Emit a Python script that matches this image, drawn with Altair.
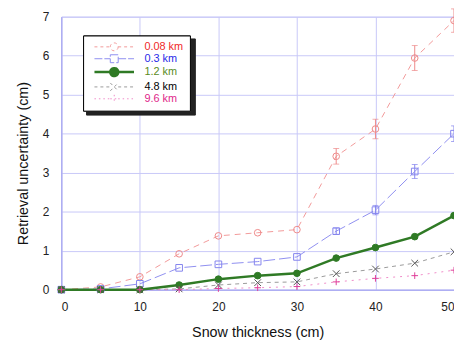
import altair as alt
import pandas as pd

# ---- data ----
thickness = [0, 5, 10, 15, 20, 25, 30, 35, 40, 45, 50]
series = ["0.08 km", "0.3 km", "1.2 km", "4.8 km", "9.6 km"]
u008 = [0, 0.07, 0.33, 0.92, 1.38, 1.46, 1.54, 3.42, 4.12, 5.94, 6.9]
u03 = [0, 0.02, 0.15, 0.56, 0.65, 0.72, 0.84, 1.5, 2.04, 3.03, 4.0]
u12 = [0, 0, 0, 0.12, 0.27, 0.36, 0.42, 0.81, 1.08, 1.36, 1.9]
u48 = [0, 0, 0, 0.02, 0.12, 0.18, 0.2, 0.41, 0.53, 0.68, 0.97]
u96 = [0, 0, 0, 0, 0.03, 0.05, 0.08, 0.2, 0.29, 0.36, 0.5]
err008 = [0, 0, 0, 0, 0, 0, 0, 0.2, 0.25, 0.32, 0.3]
err03 = [0, 0, 0, 0, 0, 0, 0, 0.08, 0.12, 0.18, 0.2]
y_ticks = [0, 1, 2, 3, 4, 5, 6, 7]
x_ticks = [0, 10, 20, 30, 40, 50]

# ---- styles ----
line_colors = ["#f29a9a", "#8f8ff0", "#2f7a25", "#9a9a9a", "#f08cc8"]
marker_colors = ["#ee8a8a", "#8585ee", "#2f7a25", "#555555", "#e0409a"]
marker_fills = ["rgba(0,0,0,0)", "rgba(0,0,0,0)", "#2f7a25", "rgba(0,0,0,0)", "rgba(0,0,0,0)"]
dashes = [[6, 5], [12, 4], [1, 0], [4, 4], [2, 5]]
shapes = ["circle", "square", "circle", "M-1,-1L1,1M-1,1L1,-1", "M-1,0H1M0,-1V1"]
label_colors = ["#f02828", "#2a2ae8", "#5a8c1e", "#000000", "#e0288a"]

rows = []
for name, vals in zip(series, [u008, u03, u12, u48, u96]):
    for x, v in zip(thickness, vals):
        rows.append({"series": name, "x": x, "y": v})
df = pd.DataFrame(rows)

erows = []
for name, vals, errs in [("0.08 km", u008, err008), ("0.3 km", u03, err03)]:
    for x, v, e in zip(thickness, vals, errs):
        if e > 0:
            erows.append({"series": name, "x": x, "y": v - e, "hi": v + e})
edf = pd.DataFrame(erows)

tdf = pd.DataFrame({"y": y_ticks, "label": [str(t) for t in y_ticks]})

# legend expressions (per entry)
def pick(values, quote=True):
    expr = ""
    for s, v in zip(series[:-1], values[:-1]):
        vv = f"'{v}'" if quote else str(v)
        expr += f"datum.label === '{s}' ? {vv} : "
    last = values[-1]
    expr += f"'{last}'" if quote else str(last)
    return expr

line_part = "M0,0H8M12,0H20"
circ = "M12,0A2,2 0 1,1 8,0A2,2 0 1,1 12,0"
sym_paths = [
    line_part + circ,
    line_part + "M8,-2H12V2H8Z",
    "M0,0H20" + circ,
    line_part + "M8,-2L12,2M8,2L12,-2",
    line_part + "M8,0H12M10,-2V2",
]
dash_exprs = ["[3,3]", "[8,2]", "[1,0]", "[3,3]", "[1.5,3]"]

common_legend = dict(
    orient="none", title=None, padding=6,
    labelFont="Liberation Sans", labelFontSize=11,
    symbolType=alt.ExprRef(expr=pick(sym_paths)),
    symbolSize=16, rowPadding=-2.5,
)

legend = alt.Legend(
    legendX=22, legendY=19, zindex=2, labelOffset=45,
    strokeColor="black", fillColor="white",
    labelColor=alt.ExprRef(expr=pick(label_colors)),
    symbolDash=alt.ExprRef(expr=pick(dash_exprs, quote=False)),
    symbolStrokeWidth=alt.ExprRef(expr="datum.label === '1.2 km' ? 2.5 : 1"),
    symbolFillColor=alt.ExprRef(expr="datum.label === '1.2 km' ? '#2f7a25' : 'transparent'"),
    **common_legend,
)
# drop shadow of the legend box (same size, labels blanked)
shadow_legend = alt.Legend(
    legendX=25, legendY=22, zindex=1, labelOffset=87, labelExpr="' '",
    strokeColor="#222222", fillColor="#222222",
    labelColor="#222222", symbolOpacity=0,
    **common_legend,
)

xaxis = alt.Axis(values=x_ticks, title="Snow thickness (cm)",
                 labelPadding=12, titlePadding=13, labelOverlap=False)
yaxis = alt.Axis(values=y_ticks, title="Retrieval uncertainty (cm)", labels=False,
                 titlePadding=31, titleY=148)
xscale = alt.Scale(domain=[0, 50], nice=False)
yscale = alt.Scale(domain=[0, 7], nice=False, zero=True)
xenc = alt.X("x:Q", scale=xscale, axis=xaxis)
yenc = alt.Y("y:Q", scale=yscale, axis=yaxis)

color = alt.Color("series:N", scale=alt.Scale(domain=series, range=line_colors),
                  sort=series, legend=legend)
dash = alt.StrokeDash("series:N", scale=alt.Scale(domain=series, range=dashes), legend=None)
shadow = alt.Opacity("series:N", scale=alt.Scale(domain=series[::-1], range=[1, 1, 1, 1, 1]),
                     legend=shadow_legend)

base = alt.Chart(df)
lines = base.mark_line(strokeWidth=1).encode(
    x=xenc, y=yenc, color=color, strokeDash=dash, opacity=shadow
).transform_filter("datum.series !== '1.2 km'")
green = base.mark_line(strokeWidth=2.5).encode(
    x=xenc, y=yenc, color=color
).transform_filter("datum.series === '1.2 km'")

points = base.mark_point(size=45, strokeWidth=1, opacity=1).encode(
    x=xenc, y=yenc,
    stroke=alt.Stroke("series:N", scale=alt.Scale(domain=series, range=marker_colors), legend=None),
    fill=alt.Fill("series:N", scale=alt.Scale(domain=series, range=marker_fills), legend=None),
    shape=alt.Shape("series:N", scale=alt.Scale(domain=series, range=shapes), legend=None),
)

ecolor = alt.Color("series:N", scale=alt.Scale(domain=series, range=marker_colors), legend=None)
ebase = alt.Chart(edf)
erule = ebase.mark_rule(strokeWidth=1).encode(x=xenc, y=yenc, y2="hi:Q", color=ecolor)
ecap_lo = ebase.mark_tick(orient="horizontal", size=6, thickness=1).encode(x=xenc, y=yenc, color=ecolor)
ecap_hi = ebase.mark_tick(orient="horizontal", size=6, thickness=1).encode(
    x=xenc, y=alt.Y("hi:Q", scale=yscale, axis=yaxis), color=ecolor)

# y tick labels (drawn through the y scale)
ylabels = alt.Chart(tdf).mark_text(
    align="right", baseline="middle", font="Liberation Sans", fontSize=12,
    color="#222222", dx=-12
).encode(x=alt.value(0), y=yenc, text="label:N")

chart = alt.layer(lines, green, erule, ecap_lo, ecap_hi, points, ylabels).resolve_scale(
    color="independent"
).properties(
    width=397, height=276,
    autosize=alt.AutoSizeParams(type="none"),
    padding={"left": 62, "top": 15, "right": 0, "bottom": 49},
    background="white",
).configure_view(
    stroke="#c4c4f8", strokeWidth=1, clip=False
).configure_axis(
    gridColor="#c8c8f8", gridWidth=1, gridOpacity=1,
    domainColor="#a0a0f0", ticks=False, labelOverlap=False,
    labelFont="Liberation Sans", labelFontSize=12, labelColor="#222222",
    titleFont="Liberation Sans", titleFontSize=14.5, titleFontWeight="normal", titleColor="#111111",
)

chart.save("out.html", embed_options={"renderer": "svg", "actions": False})
